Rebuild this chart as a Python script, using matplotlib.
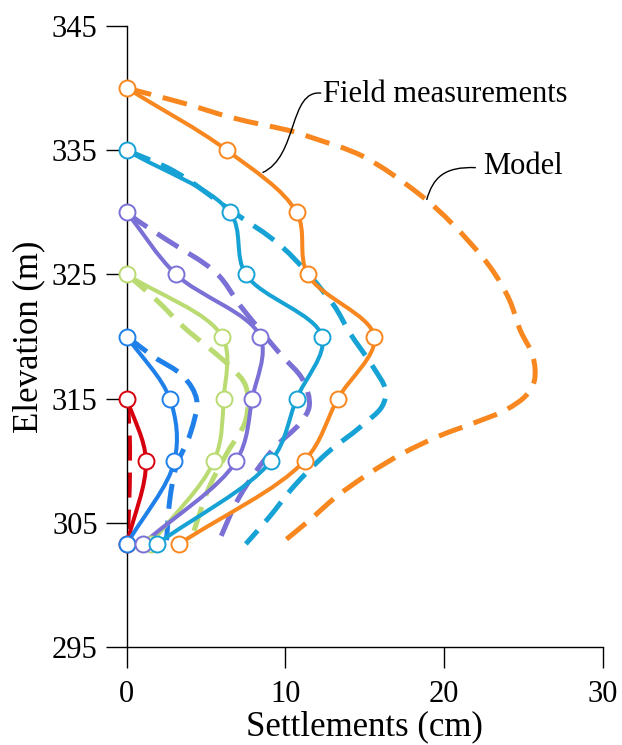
import numpy as np
import matplotlib
matplotlib.use("Agg")
import matplotlib.pyplot as plt
from matplotlib.path import Path
from matplotlib.patches import PathPatch

plt.rcParams['font.family'] = ['Liberation Serif', 'DejaVu Serif']

# measured settlements (cm) at inclinometer elevations (m), one set per stage
orange_meas_elev = [340, 335, 330, 325, 320, 315, 310, 303.3]
orange_meas = [0, 6.3, 10.7, 11.4, 15.6, 13.3, 11.2, 3.3]
cyan_meas_elev = [335, 330, 325, 320, 315, 310, 303.3]
cyan_meas = [0, 6.5, 7.5, 12.3, 10.7, 9.1, 1.9]
purple_meas_elev = [330, 325, 320, 315, 310, 303.3]
purple_meas = [0, 3.1, 8.4, 7.9, 6.9, 1.0]
green_meas_elev = [325, 320, 315, 310, 303.3]
green_meas = [0, 6.0, 6.1, 5.5, 1.5]
blue_meas_elev = [320, 315, 310, 303.3]
blue_meas = [0, 2.7, 3.0, 0]
red_meas_elev = [315, 310, 303.3]
red_meas = [0, 1.2, 0]

# model predictions
orange_mod = [0, 3.55, 6.7, 10.5, 11.7, 14.9, 18.5, 20.5, 22.9, 24.1, 24.8, 25.6,
              25.7, 25.2, 23.9, 22.0, 19.7, 17.4, 15.3, 13.2, 11.5, 9.6]
orange_mod_elev = [340, 338.8, 337.6, 336.5, 336.0, 334.5, 331.4, 329.1, 325.6, 323.0,
                   320.5, 318.4, 316.5, 315.3, 314.1, 313.1, 312.0, 310.6, 309.0,
                   307.1, 305.2, 303.2]
cyan_mod = [0, 3.0, 6.5, 9.8, 13.0, 14.05, 15.5, 16.3, 16.1, 14.7, 12.6, 10.5, 9.0, 7.5]
cyan_mod_elev = [335, 333.3, 330.2, 327.2, 322.6, 320.3, 317.6, 315.7, 314.4, 312.7,
                 310.6, 307.9, 305.5, 303.3]
purple_mod = [0, 0.6, 2.5, 5.65, 7.2, 9.6, 11.1, 11.5, 10.9, 9.2, 7.1, 5.65]
purple_mod_elev = [330, 329.4, 327.8, 325.1, 322.4, 318.7, 316.5, 314.4, 313.0, 310.9,
                   307.1, 303.1]
green_mod = [0, 1.9, 3.55, 6.5, 7.5, 7.5, 6.3, 5.2, 4.6, 4.0]
green_mod_elev = [325, 322.9, 320.8, 317.6, 316.0, 313.3, 310.6, 307.9, 305.8, 303.4]
blue_mod = [0, 1.66, 3.55, 4.4, 4.0, 3.1, 2.7, 2.5]
blue_mod_elev = [320, 318.4, 316.8, 314.9, 312.2, 309.5, 306.8, 303.6]
red_mod = [0, 0.15, 0.15, 0.05]
red_mod_elev = [315, 312, 308, 304.5]

colors = {
    'red': '#D7000F',
    'blue': '#1F80EA',
    'green': '#B9DB72',
    'purple': '#7A70D6',
    'cyan': '#17A2D5',
    'orange': '#F7871E',
}

x_ticks = [0, 10, 20, 30]
y_ticks = [295, 305, 315, 325, 335, 345]

# one cm on the x axis is drawn ~1.28 times longer than one m on the y axis
ASPECT = 1.28


def smooth_path(x, y):
    # centripetal Catmull-Rom segments written as cubic Bezier path codes
    p = np.column_stack([np.asarray(x, float) * ASPECT, np.asarray(y, float)])
    ext = np.vstack([2 * p[0] - p[1], p, 2 * p[-1] - p[-2]])
    verts = [p[0]]
    codes = [Path.MOVETO]
    for i in range(1, len(ext) - 2):
        p0, p1, p2, p3 = ext[i - 1], ext[i], ext[i + 1], ext[i + 2]
        d0 = max(np.linalg.norm(p1 - p0) ** 0.5, 1e-6)
        d1 = max(np.linalg.norm(p2 - p1) ** 0.5, 1e-6)
        d2 = max(np.linalg.norm(p3 - p2) ** 0.5, 1e-6)
        m1 = ((p1 - p0) / d0 - (p2 - p0) / (d0 + d1) + (p2 - p1) / d1) * d1
        m2 = ((p2 - p1) / d1 - (p3 - p1) / (d1 + d2) + (p3 - p2) / d2) * d1
        verts += [p1 + m1 / 3, p2 - m2 / 3, p2]
        codes += [Path.CURVE4] * 3
    verts = np.array(verts)
    verts[:, 0] /= ASPECT
    return Path(verts, codes)


def draw_curve(ax, x, y, color, dashed=False, zorder=2):
    if dashed:
        patch = PathPatch(smooth_path(x, y), fill=False, edgecolor=color, lw=3.6,
                          linestyle=(0, (5, 2.4)), capstyle='butt', zorder=zorder)
    else:
        patch = PathPatch(smooth_path(x, y), fill=False, edgecolor=color, lw=2.9,
                          zorder=zorder)
    ax.add_patch(patch)


fig = plt.figure(figsize=(6.22, 7.45), dpi=100)
ax = fig.add_axes([0.204, 0.1315, 0.765, 0.8335])

series = [
    ('red', red_meas, red_meas_elev, red_mod, red_mod_elev),
    ('blue', blue_meas, blue_meas_elev, blue_mod, blue_mod_elev),
    ('green', green_meas, green_meas_elev, green_mod, green_mod_elev),
    ('purple', purple_meas, purple_meas_elev, purple_mod, purple_mod_elev),
    ('cyan', cyan_meas, cyan_meas_elev, cyan_mod, cyan_mod_elev),
    ('orange', orange_meas, orange_meas_elev, orange_mod, orange_mod_elev),
]

for name, mx, my, px, py in series:
    c = colors[name]
    draw_curve(ax, px, py, c, dashed=True, zorder=2)
    draw_curve(ax, mx, my, c, zorder=3)
for name, mx, my, px, py in series:
    ax.plot(mx, my, 'o', ms=11.5, mfc='white', mec=colors[name], mew=1.4,
            zorder=5, clip_on=False)

# leader lines for the labels
field_leader = Path([(12.25, 339.6), (10.2, 339.9), (10.8, 334.5), (8.55, 333.2)],
                    [Path.MOVETO, Path.CURVE4, Path.CURVE4, Path.CURVE4])
model_leader = Path([(22.0, 333.6), (20.0, 333.7), (19.3, 332.8), (18.9, 331.0)],
                    [Path.MOVETO, Path.CURVE4, Path.CURVE4, Path.CURVE4])
for leader in (field_leader, model_leader):
    ax.add_patch(PathPatch(leader, fill=False, edgecolor='black', lw=1.0, zorder=4))
ax.text(12.35, 339.5, 'Field measurements', fontsize=22, ha='left', va='center')
ax.text(22.45, 333.7, 'Model', fontsize=22, ha='left', va='center')

ax.set_xlim(0, 30)
ax.set_ylim(295, 345)
ax.set_xticks(x_ticks)
ax.set_yticks(y_ticks)
ax.spines['top'].set_visible(False)
ax.spines['right'].set_visible(False)
for s in ('left', 'bottom'):
    ax.spines[s].set_linewidth(1.0)
ax.tick_params(direction='out', length=15, width=1.0, labelsize=22)
ax.tick_params(axis='x', pad=9)
ax.tick_params(axis='y', pad=6)
ax.set_xlabel('Settlements (cm)', fontsize=25, labelpad=1)
ax.set_ylabel('Elevation (m)', fontsize=25, labelpad=5)

fig.savefig('out.png', dpi=100)
